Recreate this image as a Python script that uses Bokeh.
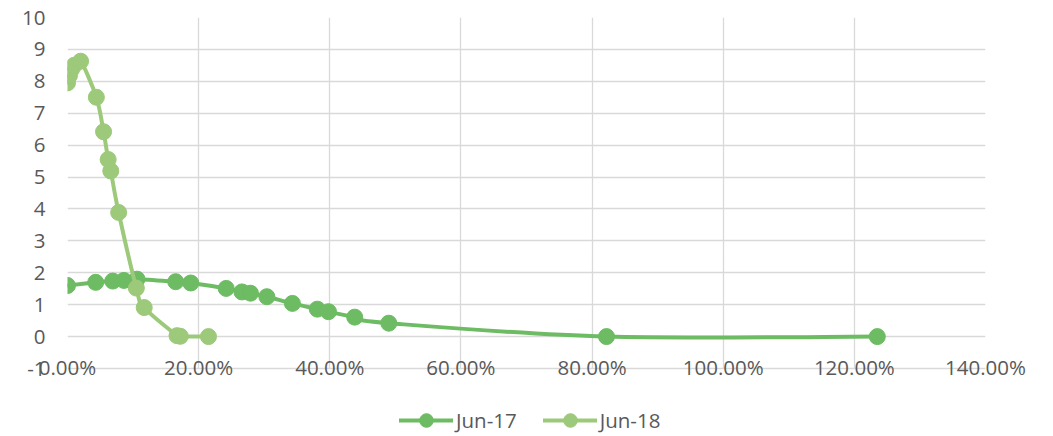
from bokeh.plotting import figure
from bokeh.models import (NumeralTickFormatter, Legend, LegendItem,
                          ColumnDataSource, Range1d, FixedTicker)
from bokeh.embed import file_html
from bokeh.resources import INLINE

# ---- data ----
series_names = ["Jun-17", "Jun-18"]
jun17_x = [0.000, 0.043, 0.069, 0.086, 0.106, 0.165, 0.188, 0.242, 0.266, 0.279,
           0.304, 0.343, 0.381, 0.398, 0.438, 0.490, 0.822, 1.235]
jun17_y = [1.60, 1.70, 1.74, 1.76, 1.80, 1.72, 1.68, 1.51, 1.40, 1.36,
           1.25, 1.04, 0.86, 0.78, 0.61, 0.42, 0.00, 0.00]
jun18_x = [0.000, 0.003, 0.006, 0.010, 0.020, 0.044, 0.055, 0.062, 0.066, 0.078,
           0.105, 0.117, 0.167, 0.172, 0.215]
jun18_y = [7.95, 8.18, 8.37, 8.50, 8.63, 7.50, 6.42, 5.55, 5.19, 3.89,
           1.52, 0.91, 0.03, 0.01, 0.00]
x_ticks = [0.0, 0.2, 0.4, 0.6, 0.8, 1.0, 1.2, 1.4]
y_ticks = list(range(-1, 11))
y_min, y_max = -1, 10

colors = ["#6DBB63", "#9DC97A"]
FONT = "Open Sans"
TXT = "#595959"

# layout (pixels)
W, H = 1037, 436
TOP, LEFT, RIGHT = 17, 67, 52
PLOT_BOTTOM = 368          # pixel row of the y = -1 gridline
px_per_unit = (PLOT_BOTTOM - TOP) / (y_max - y_min)
y_low = y_min - (H - PLOT_BOTTOM) / px_per_unit   # frame extends down to hold the legend


def smooth_segments(xs, ys):
    """Bezier control points for a smoothed (Excel-like) line through the data."""
    n = len(xs)
    d = dict(x0=[], y0=[], x1=[], y1=[], cx0=[], cy0=[], cx1=[], cy1=[])
    for i in range(n - 1):
        p0 = (xs[max(i - 1, 0)], ys[max(i - 1, 0)])
        p1 = (xs[i], ys[i])
        p2 = (xs[i + 1], ys[i + 1])
        p3 = (xs[min(i + 2, n - 1)], ys[min(i + 2, n - 1)])
        d["x0"].append(p1[0]); d["y0"].append(p1[1])
        d["x1"].append(p2[0]); d["y1"].append(p2[1])
        d["cx0"].append(p1[0] + (p2[0] - p0[0]) / 6.0)
        d["cy0"].append(p1[1] + (p2[1] - p0[1]) / 6.0)
        d["cx1"].append(p2[0] - (p3[0] - p1[0]) / 6.0)
        d["cy1"].append(p2[1] - (p3[1] - p1[1]) / 6.0)
    return ColumnDataSource(d)


p = figure(width=W, height=H, output_backend="svg", toolbar_location=None,
           x_range=Range1d(0, 1.4), y_range=Range1d(y_low, y_max),
           min_border_left=LEFT, min_border_right=RIGHT, min_border_top=TOP, min_border_bottom=0)
p.outline_line_color = None
p.background_fill_color = "white"
p.border_fill_color = "white"

p.xaxis.ticker = FixedTicker(ticks=x_ticks)
p.xaxis.formatter = NumeralTickFormatter(format="0.00%")
p.yaxis.ticker = FixedTicker(ticks=y_ticks)
p.yaxis.formatter = NumeralTickFormatter(format="0")
for ax in (p.xaxis[0], p.yaxis[0]):
    ax.axis_line_color = None
    ax.major_tick_line_color = None
    ax.minor_tick_line_color = None
    ax.major_tick_out = 0
    ax.major_tick_in = 0
    ax.major_label_text_font = FONT
    ax.major_label_text_font_size = "20.5px"
    ax.major_label_text_color = TXT
p.yaxis.major_label_standoff = 22
# pull the x labels up onto the y = -1 gridline, as in the reference
p.xaxis.major_label_standoff = -(H - PLOT_BOTTOM) - 16

p.xgrid.grid_line_color = "#D9D9D9"
p.ygrid.grid_line_color = "#D9D9D9"
p.xgrid.grid_line_width = 1.3
p.ygrid.grid_line_width = 1.3
if "cross_bounds" in p.xgrid[0].properties():
    p.xgrid.cross_bounds = (y_min, y_max)

items = []
for name, xs, ys, c in zip(series_names, [jun17_x, jun18_x], [jun17_y, jun18_y], colors):
    src = smooth_segments(xs, ys)
    r_line = p.bezier(x0="x0", y0="y0", x1="x1", y1="y1", cx0="cx0", cy0="cy0",
                      cx1="cx1", cy1="cy1", source=src, line_color=c, line_width=4,
                      line_cap="round")
    r_pts = p.scatter(xs, ys, size=16, fill_color=c, line_color=c, marker="circle")
    items.append(LegendItem(label=name, renderers=[r_line, r_pts]))

legend = Legend(items=items, orientation="horizontal", location=(332, -1),
                label_text_font=FONT, label_text_font_size="20.5px", label_text_color=TXT,
                glyph_width=54, glyph_height=34, label_standoff=3, spacing=26,
                border_line_color=None, background_fill_alpha=0, padding=0, margin=0)
p.add_layout(legend, "center")

open("out.html", "w").write(file_html(p, INLINE))
